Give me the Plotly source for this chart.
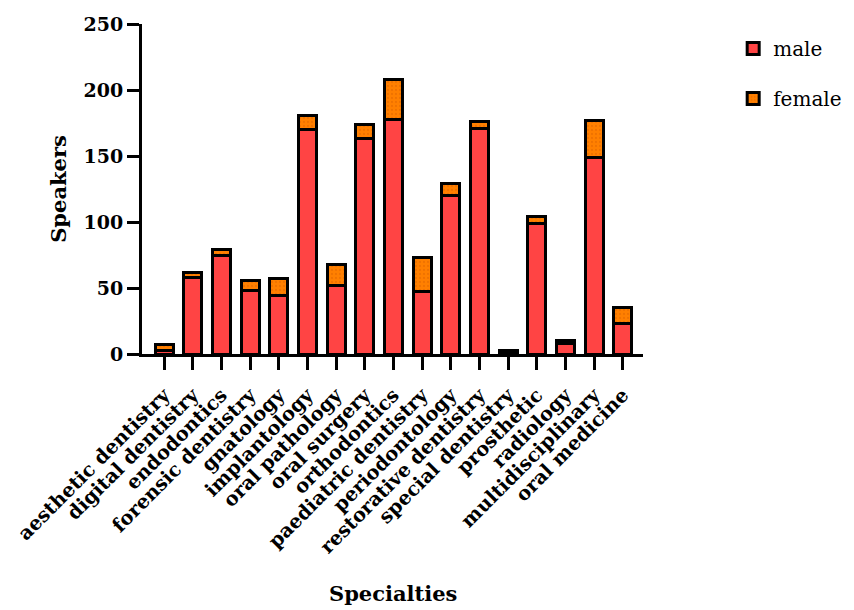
import plotly.graph_objects as go

categories = ["aesthetic dentistry", "digital dentistry", "endodontics", "forensic dentistry",
              "gnatology", "implantology", "oral pathology", "oral surgery", "orthodontics",
              "paediatric dentistry", "periodontology", "restorative dentistry", "special dentistry",
              "prosthetic", "radiology", "multidisciplinary", "oral medicine"]
male = [3, 58, 75, 48, 44, 170, 52, 163, 178, 47, 120, 171, 1, 99, 8, 149, 23]
female = [4, 4, 4, 8, 13, 11, 16, 11, 30, 26, 9, 5, 2, 5, 2, 28, 12]
y_ticks = [0, 50, 100, 150, 200, 250]

FONT = "DejaVu Serif"

fig = go.Figure()
fig.add_trace(go.Bar(
    x=categories, y=male, name="male", legendgroup="m",
    marker=dict(color="#FF4444", line=dict(color="black", width=3)),
))
fig.add_trace(go.Bar(
    x=categories, y=female, name="female", legendgroup="f",
    marker=dict(color="#FF7F00", line=dict(color="black", width=3),
                pattern=dict(shape=".", size=4, solidity=0.25, fgcolor="#E06400", bgcolor="#FF8000")),
))

# page has an 8px body margin, so figure is sized 8px smaller
fig.update_layout(
    width=846, height=602,
    barmode="stack", bargap=0.37,
    plot_bgcolor="white", paper_bgcolor="white",
    margin=dict(l=134, r=211, t=16, b=256, autoexpand=False),
    font=dict(family=FONT, color="black"),
    showlegend=True,
    legend=dict(x=1.18, y=0.985, xanchor="left", yanchor="top",
                traceorder="grouped", tracegroupgap=21,
                font=dict(family=FONT, size=20, color="black")),
    xaxis=dict(
        range=[-0.77, 16.7],
        showline=True, linecolor="black", linewidth=3,
        ticks="outside", ticklen=13, tickwidth=3, tickcolor="black",
        tickangle=-45, ticklabelstandoff=6,
        tickfont=dict(family=FONT, size=19.5, color="black", weight="bold"),
        showgrid=False, zeroline=False, automargin=False,
    ),
    yaxis=dict(
        range=[0, 250],
        tickvals=y_ticks,
        showline=True, linecolor="black", linewidth=3,
        ticks="outside", ticklen=12, tickwidth=3, tickcolor="black",
        tickfont=dict(family=FONT, size=19, color="black", weight="bold"),
        showgrid=False, zeroline=False, automargin=False,
        title=dict(text="<b>Speakers</b>", font=dict(family=FONT, size=21, color="black"), standoff=12),
    ),
    annotations=[dict(
        text="<b>Specialties</b>", x=0.5, y=(346 - 585) / 330, xref="paper", yref="paper",
        yanchor="middle", showarrow=False, font=dict(family=FONT, size=21, color="black"),
    )],
)

fig.write_html("out.html")
